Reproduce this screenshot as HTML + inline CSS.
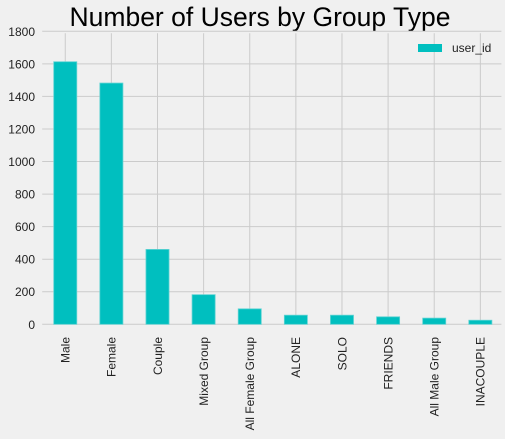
<!DOCTYPE html>
<html><head><meta charset="utf-8"><style>
html,body{margin:0;padding:0;background:#f0f0f0;}
svg{display:block;font-family:"Liberation Sans",Arial,sans-serif;}
</style></head><body>
<svg id="chart" width="505" height="439">
<rect width="505" height="439" fill="#f0f0f0"/>
<text x="260" y="26" text-anchor="middle" font-size="26.5" fill="#000">Number of Users by Group Type</text>
<g id="grid"></g><g id="bars"></g><g id="labels"></g>
<g>
<rect x="418" y="44" width="24" height="8" fill="#00bfbf"/>
<text x="452" y="52" font-size="12" fill="#222">user_id</text>
</g>
</svg>
<script>
const categories=["Male","Female","Couple","Mixed Group","All Female Group","ALONE","SOLO","FRIENDS","All Male Group","INACOUPLE"];
const values=[1613,1482,460,182,95,56,56,46,38,25];
const yTicks=[0,200,400,600,800,1000,1200,1400,1600,1800];
const L=42.2,R=503.4,T=31.3,B=324.3,yMax=1800;
const step=(R-L)/categories.length;
const y=v=>B-(v/yMax)*(B-T);
const xc=i=>L+step*(i+0.5);
const ns="http://www.w3.org/2000/svg";
const grid=document.getElementById('grid'),bars=document.getElementById('bars'),labels=document.getElementById('labels');
function mk(tag,attrs,parent){const e=document.createElementNS(ns,tag);for(const k in attrs)e.setAttribute(k,attrs[k]);parent.appendChild(e);return e;}
yTicks.forEach(t=>{
  const l=mk('line',{x1:L,x2:R-2,y1:y(t),y2:y(t),stroke:'#cbcbcb','stroke-width':1},grid);
  
  
  const tx=mk('text',{x:35,y:y(t)+4.5,'text-anchor':'end','font-size':12,fill:'#222'},labels);
  tx.textContent=t;
  
  
});
categories.forEach((c,i)=>{
  const gl=mk('line',{x1:xc(i),x2:xc(i),y1:T+2,y2:B,stroke:'#cbcbcb','stroke-width':1},grid);
  
  
  const w=step*0.5;
  const r=mk('rect',{x:xc(i)-w/2,y:y(values[i]),width:w,height:B-y(values[i]),fill:'#00bfbf',stroke:'#5fd3d3','stroke-width':0.8},bars);
  
  
  const tx=mk('text',{x:0,y:0,'text-anchor':'end','font-size':12,fill:'#222',transform:`translate(${xc(i)+4.3},337) rotate(-90)`},labels);
  tx.textContent=c;
  
  
});
</script>
</body></html>
